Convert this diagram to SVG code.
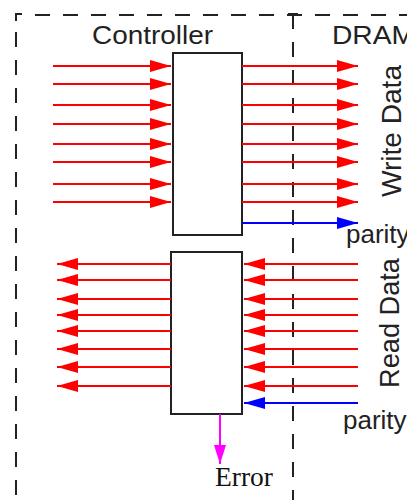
<svg xmlns="http://www.w3.org/2000/svg" width="407" height="500" viewBox="0 0 407 500">
  <defs>
    <marker id="ah-red" markerWidth="21" markerHeight="14" refX="21" refY="7" orient="auto" markerUnits="userSpaceOnUse">
      <path d="M0,1 L21,7 L0,13 Z" fill="#ff0000"/>
    </marker>
    <marker id="ah-blue" markerWidth="21" markerHeight="14" refX="21" refY="7" orient="auto" markerUnits="userSpaceOnUse">
      <path d="M0,1 L21,7 L0,13 Z" fill="#0000ff"/>
    </marker>
    <marker id="ah-mag" markerWidth="19" markerHeight="14" refX="19" refY="7" orient="auto" markerUnits="userSpaceOnUse">
      <path d="M0,1 L19,7 L0,13 Z" fill="#ff00ff"/>
    </marker>
  </defs>
  <style>
    .dash { stroke: #222; stroke-width: 2; fill: none; stroke-dasharray: 15 13; }
    .solid { stroke: #222; stroke-width: 2; fill: none; }
    .box { fill: #fff; stroke: #222; stroke-width: 2; }
    .red { stroke: #ff0000; stroke-width: 2; fill: none; marker-end: url(#ah-red); }
    .blue { stroke: #0000ff; stroke-width: 2; fill: none; marker-end: url(#ah-blue); }
    .mag { stroke: #ff00ff; stroke-width: 2; fill: none; marker-end: url(#ah-mag); }
    .lbl { font-family: "Liberation Sans", Arial, sans-serif; fill: #222; }
    .serif { font-family: "Liberation Serif", "Times New Roman", serif; fill: #111; }
  </style>

  <rect width="407" height="500" fill="#fff"/>

  <!-- domain boundaries -->
  <g id="boundaries">
    <path class="solid" d="M16,21 V14 H22"/>
    <path class="dash" d="M35,15 H407"/>
    <path class="dash" d="M16,32 V500"/>
    <path class="solid" d="M288,14 H298"/>
    <path class="dash" d="M293,14 V500" stroke-dasharray="33 12 15 13"/>
  </g>

  <g id="controller-label"><text class="lbl" x="92" y="44" font-size="25" textLength="121" lengthAdjust="spacingAndGlyphs">Controller</text></g>
  <g id="dram-label"><text class="lbl" x="332" y="44" font-size="25" textLength="83" lengthAdjust="spacingAndGlyphs">DRAM</text></g>

  <g id="write-encoder"><rect class="box" x="173" y="53" width="69" height="182"/></g>
  <g id="read-checker"><rect class="box" x="171" y="252" width="71" height="162"/></g>

  <g id="connectors">
    <!-- write data into encoder -->
    <path class="red" d="M53,66 H171"/>
    <path class="red" d="M53,84 H171"/>
    <path class="red" d="M53,105 H171"/>
    <path class="red" d="M53,124 H171"/>
    <path class="red" d="M53,144 H171"/>
    <path class="red" d="M53,162 H171"/>
    <path class="red" d="M53,184 H171"/>
    <path class="red" d="M53,202 H171"/>
    <!-- write data out to DRAM -->
    <path class="red" d="M242,66 H358"/>
    <path class="red" d="M242,84 H358"/>
    <path class="red" d="M242,105 H358"/>
    <path class="red" d="M242,124 H358"/>
    <path class="red" d="M242,144 H358"/>
    <path class="red" d="M242,162 H358"/>
    <path class="red" d="M242,184 H358"/>
    <path class="red" d="M242,202 H358"/>
    <path class="blue" d="M242,223 H358"/>
    <!-- read data from DRAM -->
    <path class="red" d="M358,264 H244"/>
    <path class="red" d="M358,280 H244"/>
    <path class="red" d="M358,299 H244"/>
    <path class="red" d="M358,315 H244"/>
    <path class="red" d="M358,331 H244"/>
    <path class="red" d="M358,349 H244"/>
    <path class="red" d="M358,367 H244"/>
    <path class="red" d="M358,386 H244"/>
    <path class="blue" d="M358,403 H244"/>
    <!-- read data out of checker -->
    <path class="red" d="M171,264 H57"/>
    <path class="red" d="M171,280 H57"/>
    <path class="red" d="M171,299 H57"/>
    <path class="red" d="M171,315 H57"/>
    <path class="red" d="M171,331 H57"/>
    <path class="red" d="M171,349 H57"/>
    <path class="red" d="M171,367 H57"/>
    <path class="red" d="M171,386 H57"/>
    <!-- error flag -->
    <path class="mag" d="M220,414 V464"/>
  </g>

  <g id="write-data-label"><text class="lbl" font-size="28" text-anchor="middle" textLength="132" lengthAdjust="spacingAndGlyphs" transform="translate(401,131) rotate(-90)">Write Data</text></g>
  <g id="read-data-label"><text class="lbl" font-size="28" text-anchor="middle" textLength="130" lengthAdjust="spacingAndGlyphs" transform="translate(399,323) rotate(-90)">Read Data</text></g>
  <g id="parity-out-label"><text class="lbl" x="346" y="243" font-size="26">parity</text></g>
  <g id="parity-in-label"><text class="lbl" x="343" y="429" font-size="26">parity</text></g>
  <g id="error-label"><text class="serif" x="215" y="486" font-size="27" textLength="58" lengthAdjust="spacingAndGlyphs">Error</text></g>
</svg>
